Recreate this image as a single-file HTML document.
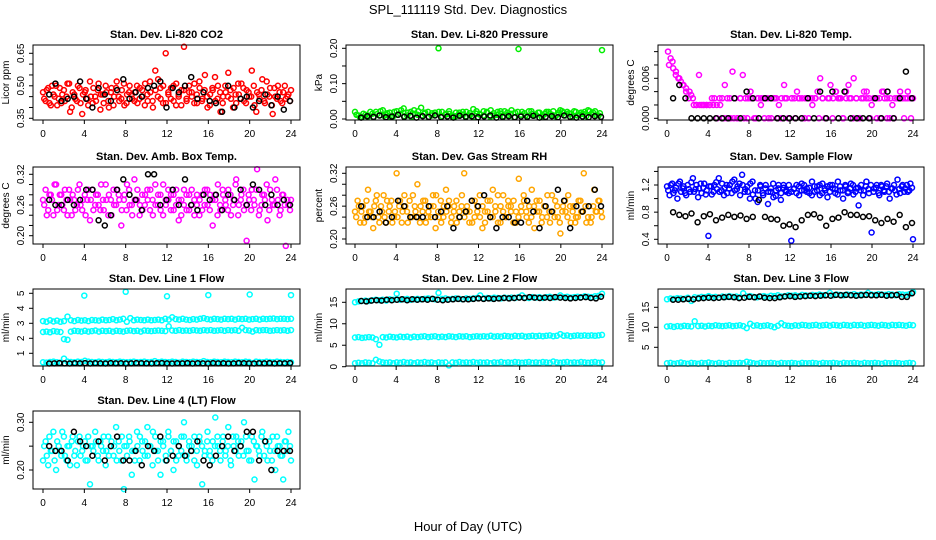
<!DOCTYPE html>
<html><head><meta charset="utf-8"><style>
body{margin:0;background:#fff}
svg{display:block;font-family:"Liberation Sans",sans-serif}
</style></head><body>
<svg id="c" width="936" height="540" viewBox="0 0 936 540">
<text x="468" y="14" text-anchor="middle" font-size="13">SPL_111119  Std. Dev. Diagnostics</text>
<text x="468" y="531" text-anchor="middle" font-size="13">Hour of Day (UTC)</text>
</svg>
<script>
// ---- data ----
const xTicks = [0,4,8,12,16,20,24];
const co2 = [0.47,0.43,0.49,0.41,0.46,0.50,0.44,0.42,0.48,0.45,0.51,0.40,0.46,0.43,0.49,0.37,0.47,0.44,0.52,0.42,0.45,0.48,0.39,0.46,0.50,0.43,0.47,0.41,0.49,0.45,0.44,0.51,0.42,0.47,0.46,0.43,0.50,0.44,0.48,0.41,0.46,0.52,0.43,0.57,0.45,0.49,0.42,0.65,0.47,0.44,0.50,0.41,0.46,0.48,0.68,0.43,0.47,0.45,0.51,0.42,0.49,0.44,0.55,0.40,0.46,0.48,0.43,0.50,0.38,0.45,0.47,0.56,0.44,0.49,0.42,0.46,0.51,0.43,0.48,0.45,0.57,0.41,0.47,0.44,0.53,0.42,0.46,0.49,0.37,0.45,0.50,0.43,0.47,0.44,0.46,0.48];
const co2b = [0.44,0.48,0.42,0.50,0.45,0.41,0.49,0.46,0.43,0.51,0.38,0.47,0.44,0.50,0.42,0.46,0.48,0.41,0.45,0.49,0.43,0.51,0.46,0.42,0.47,0.40,0.49,0.45,0.52,0.43,0.48,0.41,0.46,0.50,0.44,0.47,0.42,0.49,0.45,0.51,0.43,0.47,0.40,0.48,0.53,0.44,0.50,0.42,0.46,0.49,0.43,0.51,0.45,0.41,0.48,0.44,0.50,0.47,0.42,0.46,0.52,0.43,0.48,0.45,0.41,0.49,0.54,0.44,0.47,0.42,0.50,0.45,0.48,0.40,0.46,0.51,0.44,0.49,0.42,0.47,0.45,0.50,0.38,0.46,0.48,0.43,0.52,0.45,0.41,0.49,0.44,0.47,0.42,0.50,0.45,0.43];
const co2k = [0.46,0.51,0.43,0.44,0.45,0.52,0.44,0.40,0.49,0.46,0.43,0.48,0.53,0.44,0.47,0.45,0.49,0.50,0.52,0.40,0.49,0.47,0.50,0.54,0.44,0.47,0.43,0.42,0.38,0.50,0.40,0.44,0.45,0.40,0.43,0.46,0.41,0.45,0.39,0.43];
const pres = [0.02,0.01,0.005,0.012,0.008,0.015,0.02,0.01,0.025,0.012,0.018,0.008,0.022,0.015,0.03,0.01,0.02,0.025,0.012,0.032,0.015,0.02,0.01,0.018,0.2,0.02,0.012,0.015,0.01,0.008,0.018,0.012,0.02,0.01,0.028,0.015,0.012,0.022,0.018,0.025,0.01,0.02,0.015,0.022,0.012,0.025,0.018,0.198,0.02,0.01,0.022,0.015,0.012,0.018,0.01,0.02,0.015,0.022,0.012,0.025,0.018,0.02,0.015,0.022,0.01,0.018,0.02,0.025,0.015,0.022,0.01,0.195];
const presb = [0.012,0.005,0.015,0.008,0.02,0.006,0.014,0.022,0.009,0.016,0.005,0.02,0.012,0.025,0.008,0.018,0.006,0.015,0.022,0.01,0.018,0.005,0.016,0.012,0.02,0.008,0.015,0.022,0.006,0.018,0.012,0.02,0.008,0.016,0.005,0.022,0.014,0.01,0.02,0.006,0.016,0.012,0.022,0.008,0.018,0.015,0.005,0.02,0.012,0.016,0.008,0.022,0.01,0.018,0.006,0.015,0.02,0.012,0.008,0.018,0.022,0.01,0.016,0.006,0.02,0.012,0.015,0.008,0.022,0.018,0.01,0.016];
const presk = [0.004,0.008,0.006,0.01,0.005,0.007,0.012,0.006,0.009,0.004,0.008,0.006,0.01,0.005,0.007,0.004,0.009,0.006,0.008,0.005,0.007,0.01,0.004,0.006,0.008,0.005,0.007,0.006,0.009,0.004,0.006,0.008,0.005,0.01,0.006,0.004,0.007,0.005,0.008,0.006];
const temp = [0.010,0.009,0.0075,0.0065,0.006,0.0055,0.005,0.0045,0.003,0.0035,0.002,0.002,0.0065,0.002,0.002,0.002,0.002,0.003,0.003,0.000,0.003,0.003,0.005,0.003,0.003,0.007,0.003,0.000,0.003,0.0065,0.003,0.003,0.004,0.003,0.000,0.003,0.002,0.003,0.003,0.000,0.003,0.003,0.003,0.002,0.003,0.005,0.003,0.000,0.003,0.003,0.004,0.003,0.003,0.000,0.003,0.003,0.002,0.003,0.004,0.006,0.003,0.000,0.003,0.005,0.003,0.004,0.003,0.003,0.000,0.004,0.005,0.003,0.006,0.003,0.000,0.003,0.004,0.003,0.003,0.002,0.003,0.000,0.003,0.004,0.003,0.003,0.000,0.002,0.003,0.003,0.004,0.003,0.003,0.004,0.003,0.003];
const tempb = [0.008,0.0085,0.007,0.006,0.005,0.004,0.004,0.003,0.002,0.002,0.002,0.002,0.002,0.002,0.002,0.002,0.000,0.000,0.000,0.000,0.000,0.003,0.000,0.000,0.003,0.000,0.003,0.003,0.000,0.003,0.000,0.003,0.000,0.000,0.003,0.000,0.003,0.000,0.003,0.000,0.003,0.000,0.003,0.003,0.000,0.003,0.000,0.003,0.000,0.004,0.003,0.000,0.003,0.003,0.000,0.003,0.000,0.003,0.004,0.000,0.003,0.003,0.000,0.004,0.000,0.003,0.000,0.003,0.003,0.000,0.003,0.000];
const tempk = [0.003,0.005,0.003,0.000,0.000,0.000,0.000,0.000,0.000,0.000,0.003,0.000,0.004,0.003,0.000,0.003,0.003,0.000,0.000,0.000,0.000,0.000,0.003,0.000,0.004,0.000,0.004,0.000,0.004,0.000,0.000,0.000,0.000,0.003,0.000,0.004,0.000,0.003,0.007,0.003];
const amb = [0.27,0.29,0.25,0.28,0.24,0.30,0.26,0.28,0.25,0.27,0.29,0.24,0.27,0.26,0.30,0.25,0.28,0.27,0.23,0.29,0.26,0.28,0.25,0.27,0.30,0.24,0.27,0.29,0.26,0.28,0.22,0.27,0.25,0.29,0.26,0.31,0.27,0.24,0.28,0.26,0.29,0.25,0.27,0.30,0.26,0.28,0.24,0.27,0.29,0.25,0.28,0.26,0.23,0.27,0.29,0.25,0.28,0.26,0.24,0.28,0.27,0.25,0.29,0.26,0.28,0.22,0.27,0.30,0.25,0.28,0.26,0.29,0.24,0.27,0.31,0.26,0.28,0.25,0.19,0.27,0.29,0.26,0.33,0.25,0.28,0.27,0.23,0.29,0.26,0.31,0.27,0.25,0.28,0.18,0.26,0.27];
const ambb = [0.26,0.24,0.28,0.27,0.30,0.25,0.28,0.26,0.29,0.24,0.27,0.28,0.25,0.29,0.26,0.27,0.24,0.29,0.27,0.25,0.28,0.26,0.30,0.25,0.27,0.28,0.24,0.26,0.29,0.27,0.25,0.28,0.30,0.26,0.24,0.27,0.29,0.26,0.25,0.28,0.27,0.29,0.24,0.26,0.28,0.25,0.30,0.26,0.27,0.28,0.25,0.29,0.27,0.24,0.26,0.28,0.25,0.29,0.27,0.26,0.24,0.28,0.26,0.29,0.25,0.27,0.28,0.24,0.26,0.29,0.27,0.25,0.28,0.26,0.30,0.24,0.27,0.29,0.26,0.28,0.25,0.27,0.29,0.24,0.26,0.28,0.30,0.25,0.27,0.26,0.29,0.24,0.28,0.26,0.27,0.25];
const ambk = [0.27,0.26,0.26,0.27,0.26,0.27,0.29,0.29,0.23,0.22,0.24,0.29,0.31,0.28,0.27,0.25,0.32,0.32,0.26,0.27,0.29,0.26,0.31,0.26,0.25,0.28,0.27,0.28,0.25,0.28,0.27,0.29,0.26,0.30,0.29,0.26,0.28,0.26,0.27,0.26];
const rh = [0.25,0.27,0.23,0.26,0.24,0.29,0.25,0.22,0.27,0.24,0.26,0.28,0.23,0.25,0.27,0.24,0.32,0.26,0.23,0.28,0.25,0.27,0.24,0.26,0.30,0.23,0.25,0.27,0.24,0.26,0.28,0.22,0.25,0.27,0.24,0.29,0.26,0.23,0.25,0.27,0.24,0.26,0.32,0.25,0.23,0.27,0.24,0.26,0.28,0.22,0.25,0.27,0.24,0.29,0.25,0.23,0.26,0.28,0.24,0.26,0.25,0.27,0.23,0.31,0.25,0.27,0.24,0.26,0.29,0.22,0.25,0.27,0.24,0.26,0.28,0.23,0.25,0.27,0.24,0.21,0.26,0.25,0.28,0.23,0.26,0.24,0.27,0.25,0.32,0.23,0.26,0.24,0.29,0.25,0.27,0.24];
const rhb = [0.24,0.26,0.25,0.23,0.27,0.25,0.24,0.26,0.28,0.23,0.25,0.24,0.27,0.26,0.23,0.25,0.24,0.27,0.25,0.26,0.23,0.24,0.28,0.25,0.24,0.26,0.27,0.23,0.25,0.24,0.26,0.28,0.24,0.23,0.26,0.25,0.27,0.24,0.26,0.23,0.25,0.28,0.24,0.26,0.25,0.23,0.27,0.25,0.24,0.26,0.23,0.25,0.27,0.24,0.26,0.28,0.23,0.25,0.24,0.27,0.26,0.23,0.25,0.24,0.26,0.28,0.25,0.23,0.24,0.26,0.27,0.25,0.23,0.26,0.24,0.25,0.28,0.24,0.26,0.23,0.25,0.27,0.24,0.26,0.25,0.23,0.24,0.27,0.25,0.26,0.24,0.23,0.26,0.25,0.27,0.25];
const rhk = [0.26,0.24,0.24,0.25,0.23,0.24,0.27,0.26,0.24,0.24,0.24,0.26,0.24,0.25,0.26,0.22,0.24,0.25,0.27,0.26,0.28,0.24,0.22,0.24,0.24,0.23,0.23,0.27,0.25,0.22,0.26,0.25,0.29,0.27,0.22,0.26,0.25,0.26,0.29,0.26];
const flow = [1.18,1.05,1.22,1.12,1.0,1.25,1.15,1.08,1.2,1.1,1.3,1.14,1.02,1.22,1.16,1.06,0.45,1.18,1.1,1.24,1.3,1.12,1.05,1.2,1.15,1.08,1.28,1.14,1.22,1.35,1.1,1.18,1.0,1.25,1.12,0.95,1.2,1.08,1.15,0.92,1.1,1.22,1.04,1.15,0.98,1.2,1.1,1.08,0.38,1.14,1.2,1.05,1.22,1.12,1.15,1.08,1.25,1.1,1.18,1.05,1.22,1.12,1.02,1.2,1.15,1.08,1.25,1.12,1.0,1.18,1.1,1.22,1.06,1.15,0.9,1.2,1.12,1.25,1.08,0.5,1.15,1.2,1.05,1.18,1.1,1.22,1.0,1.15,1.12,1.28,1.08,1.2,1.15,1.1,1.22,0.4];
const flowb = [1.12,1.2,1.08,1.16,1.22,1.1,1.18,1.05,1.14,1.24,1.1,1.2,1.15,1.08,1.22,1.12,1.18,1.06,1.2,1.14,1.1,1.22,1.16,1.08,1.2,1.25,1.12,1.18,1.05,1.2,1.14,1.1,1.22,1.06,1.0,1.12,1.18,1.05,1.2,1.1,1.15,1.02,1.12,1.2,1.08,1.16,1.12,1.2,1.1,1.15,1.08,1.18,1.12,1.2,1.1,1.16,1.05,1.18,1.12,1.2,1.08,1.15,1.18,1.1,1.2,1.14,1.06,1.18,1.12,1.2,1.08,1.15,1.2,1.1,1.16,1.12,1.05,1.18,1.14,1.2,1.1,1.16,1.08,1.2,1.12,1.18,1.1,1.15,1.2,1.06,1.14,1.18,1.1,1.2,1.12,1.16];
const flowk = [0.8,0.76,0.74,0.78,0.65,0.74,0.77,0.68,0.72,0.76,0.73,0.75,0.7,0.73,0.98,0.73,0.7,0.69,0.6,0.62,0.58,0.68,0.76,0.77,0.72,0.6,0.7,0.72,0.8,0.76,0.76,0.73,0.74,0.68,0.64,0.7,0.66,0.76,0.58,0.64];
const l1a = [3.15,3.1,3.2,3.12,3.18,3.1,3.15,3.45,3.2,3.15,3.22,3.18,3.2,3.15,3.22,3.2,3.18,3.25,3.2,3.22,3.28,3.2,3.25,3.3,3.1,3.35,3.2,3.25,3.22,3.2,3.25,3.2,3.22,3.25,3.2,3.3,3.25,3.4,3.28,3.25,3.3,3.25,3.22,3.28,3.25,3.3,3.35,3.28,3.25,3.3,3.28,3.25,3.3,3.28,3.3,3.25,3.3,3.28,3.3,3.25,3.28,3.3,3.25,3.3,3.28,3.3,3.32,3.28,3.3,3.3,3.28,3.3];
const l1b = [2.42,2.45,2.4,2.48,2.45,2.42,1.95,1.9,2.45,2.5,2.48,2.45,2.5,2.45,2.48,2.52,2.45,2.5,2.48,2.5,2.45,2.5,2.48,2.45,2.5,2.52,2.48,2.5,2.45,2.52,2.5,2.48,2.5,2.52,2.5,2.48,2.8,2.52,2.5,2.55,2.5,2.52,2.5,2.55,2.52,2.5,2.55,2.52,2.55,2.5,2.52,2.55,2.5,2.55,2.52,2.55,2.5,2.7,2.55,2.52,2.45,2.55,2.52,2.55,2.55,2.5,2.52,2.55,2.52,2.55,2.5,2.55];
const l1c = [0.4,0.38,0.42,0.45,0.4,0.38,0.65,0.45,0.42,0.4,0.45,0.42,0.5,0.45,0.42,0.4,0.45,0.42,0.4,0.45,0.42,0.4,0.45,0.42,0.4,0.42,0.45,0.4,0.42,0.45,0.4,0.42,0.48,0.4,0.45,0.42,0.4,0.45,0.42,0.38,0.45,0.42,0.4,0.45,0.42,0.4,0.48,0.42,0.4,0.45,0.42,0.4,0.45,0.42,0.4,0.45,0.42,0.4,0.45,0.42,0.35,0.45,0.42,0.4,0.45,0.42,0.4,0.45,0.42,0.4,0.42,0.4];
const l1k = [0.32,0.33,0.35,0.33,0.32,0.34,0.33,0.35,0.32,0.34,0.33,0.32,0.35,0.33,0.34,0.32,0.33,0.35,0.34,0.33,0.32,0.34,0.35,0.33,0.32,0.34,0.33,0.35,0.32,0.34,0.33,0.32,0.35,0.33,0.34,0.32,0.33,0.35,0.34,0.33,0.32,0.34,0.33,0.35,0.32,0.34,0.33,0.35];
const outHours = [4,8,12,16,20,24];
const l1out = [4.85,5.1,4.8,4.88,4.92,4.88];
const l2a = [15.0,15.2,15.3,15.4,15.3,15.5,15.6,15.5,15.6,15.4,15.7,15.6,17.0,15.6,15.7,15.8,15.6,15.7,15.8,15.7,15.8,15.9,15.8,15.7,17.2,15.8,15.9,15.7,15.8,15.9,15.8,15.7,15.9,15.8,15.9,16.0,16.6,15.9,16.0,15.9,16.1,16.0,15.9,16.1,16.0,16.1,16.0,16.2,16.6,16.1,16.0,16.2,16.1,16.2,16.0,16.2,16.3,16.1,16.2,16.6,16.2,16.3,16.1,16.2,16.3,16.2,16.4,16.3,16.2,16.4,16.5,17.0];
const l2b = [6.8,6.9,6.7,6.8,6.9,6.8,6.4,5.1,6.9,6.8,7.0,6.9,6.8,7.0,6.9,7.0,6.8,7.0,6.9,7.0,7.1,6.9,7.0,7.1,6.9,7.0,6.9,7.1,7.0,6.9,7.1,7.0,7.1,6.9,7.0,7.1,7.0,7.1,7.0,7.2,7.0,7.1,7.0,7.2,7.1,7.0,7.2,7.1,7.2,7.0,7.1,7.2,7.1,7.2,7.1,7.2,7.3,7.1,7.2,7.6,7.2,7.3,7.1,7.2,7.3,7.2,7.3,7.2,7.3,7.2,7.3,7.4];
const l2c = [0.8,0.9,0.8,1.0,0.9,0.8,1.6,1.2,1.0,0.9,1.0,0.8,1.0,0.9,1.1,0.9,1.0,0.8,1.0,0.9,1.1,0.9,1.0,0.8,1.0,0.9,1.0,0.3,1.0,0.9,1.1,0.9,1.0,0.9,1.1,0.9,1.0,0.9,1.0,0.8,1.0,0.9,1.1,0.9,1.0,0.9,1.1,1.0,0.9,1.0,1.1,0.9,1.0,0.9,1.1,1.0,0.9,1.2,1.0,0.9,1.0,1.1,0.9,1.0,0.9,1.1,1.0,0.9,1.0,1.1,0.9,1.0];
const l2k = [15.3,15.2,15.4,15.5,15.4,15.6,15.5,15.6,15.7,15.5,15.7,15.6,15.7,15.6,15.8,15.6,15.5,15.6,15.7,15.8,15.7,15.7,15.8,15.9,15.8,15.9,15.8,15.9,16.0,15.9,16.0,16.1,16.0,16.2,16.1,16.0,16.1,16.0,16.2,16.1,16.0,15.9,16.0,16.1,16.2,16.0,15.9,16.3];
const l3a = [17.0,17.2,17.1,17.3,17.2,17.1,17.4,16.6,17.5,17.4,17.6,17.5,17.8,17.5,17.6,17.4,17.7,17.6,17.8,17.6,17.7,17.5,18.5,17.7,17.8,17.6,17.5,17.7,17.8,17.6,17.9,17.8,18.0,17.7,17.8,18.0,17.9,18.0,17.8,18.1,18.0,17.9,18.1,18.0,18.2,18.0,18.1,18.6,18.0,18.2,18.1,18.0,18.2,18.1,18.3,18.0,18.2,18.1,18.6,18.2,18.1,18.3,18.2,18.1,18.3,18.2,18.0,18.3,18.2,18.1,18.3,18.8];
const l3b = [10.2,10.3,10.1,10.3,10.2,10.4,10.3,10.2,11.5,10.3,10.4,10.2,10.4,10.3,10.5,10.4,10.3,10.4,10.5,10.3,10.4,10.5,10.3,9.8,10.9,10.4,10.5,10.3,10.4,10.5,10.3,10.0,10.4,11.0,10.5,10.4,10.3,10.5,10.4,10.6,10.5,10.4,10.5,10.6,10.4,10.5,10.6,10.4,10.6,10.5,10.4,10.6,10.5,10.4,10.6,10.5,10.6,10.4,10.5,10.6,10.5,10.4,10.6,10.5,10.4,10.6,10.5,10.6,10.5,10.4,10.6,10.5];
const l3c = [1.0,1.1,0.9,1.0,1.2,1.0,0.9,1.1,1.0,0.9,1.1,1.0,1.2,1.0,0.9,1.1,1.0,0.9,1.1,1.0,1.0,1.1,1.0,1.4,1.2,1.0,0.9,1.1,1.0,1.0,1.1,1.0,0.9,1.1,1.0,1.0,1.1,1.0,0.9,1.1,1.0,1.0,1.1,1.0,0.9,1.1,1.0,1.0,1.1,1.0,0.9,1.1,1.0,1.0,1.1,1.0,0.9,1.1,1.0,1.0,1.1,1.0,0.9,1.1,1.0,1.0,1.1,1.0,0.9,1.0,1.1,1.0];
const l3k = [16.9,16.9,17.0,17.1,17.0,17.2,17.3,17.4,17.3,17.4,17.5,17.6,17.5,17.3,17.4,17.6,17.5,17.7,17.4,17.3,17.3,17.5,17.7,17.8,17.6,17.7,17.8,17.9,17.8,17.9,18.0,17.9,18.1,18.0,18.1,18.0,17.9,18.0,18.1,18.0,18.0,18.1,17.9,18.0,18.1,17.6,17.6,18.5];
const l4 = [0.22,0.26,0.21,0.24,0.28,0.20,0.25,0.23,0.27,0.22,0.25,0.26,0.23,0.21,0.27,0.24,0.26,0.22,0.17,0.25,0.28,0.23,0.26,0.24,0.21,0.27,0.25,0.23,0.29,0.26,0.22,0.16,0.25,0.27,0.19,0.24,0.28,0.22,0.26,0.23,0.29,0.25,0.21,0.27,0.24,0.19,0.26,0.22,0.28,0.24,0.20,0.26,0.23,0.27,0.30,0.22,0.25,0.24,0.27,0.21,0.26,0.17,0.24,0.28,0.23,0.26,0.31,0.25,0.22,0.27,0.24,0.29,0.21,0.25,0.27,0.23,0.26,0.30,0.24,0.22,0.27,0.18,0.25,0.23,0.28,0.26,0.22,0.24,0.27,0.20,0.25,0.23,0.18,0.26,0.28,0.22];
const l4b = [0.25,0.23,0.27,0.24,0.22,0.26,0.24,0.28,0.23,0.25,0.21,0.27,0.24,0.26,0.23,0.25,0.22,0.27,0.25,0.24,0.26,0.22,0.25,0.27,0.24,0.23,0.26,0.25,0.22,0.24,0.27,0.25,0.23,0.26,0.24,0.22,0.25,0.27,0.24,0.26,0.23,0.25,0.28,0.24,0.22,0.26,0.25,0.23,0.27,0.24,0.26,0.22,0.25,0.24,0.27,0.23,0.26,0.25,0.22,0.24,0.27,0.25,0.23,0.26,0.24,0.22,0.25,0.27,0.24,0.26,0.23,0.25,0.22,0.27,0.24,0.26,0.25,0.23,0.27,0.24,0.22,0.26,0.25,0.24,0.27,0.23,0.25,0.26,0.22,0.24,0.27,0.25,0.23,0.26,0.24,0.25];
const l4k = [0.25,0.24,0.24,0.22,0.28,0.26,0.25,0.23,0.26,0.22,0.25,0.27,0.22,0.22,0.24,0.21,0.25,0.24,0.27,0.22,0.23,0.25,0.23,0.24,0.26,0.22,0.21,0.23,0.25,0.27,0.24,0.25,0.28,0.28,0.22,0.26,0.20,0.24,0.24,0.24];

// ---- layout ----
const svg = document.getElementById('c');
const NS = 'http://www.w3.org/2000/svg';
const cols = [{b0:33,b1:300,h0:43,h24:291},{b0:346,b1:613,h0:355,h24:602},{b0:658,b1:924,h0:667,h24:913}];
const rows = [{t:45,b:120},{t:167,b:244},{t:289,b:366},{t:411,b:489}];
function mk(tag, attrs, parent){const e=document.createElementNS(NS,tag);for(const k in attrs)e.setAttribute(k,attrs[k]);(parent||svg).appendChild(e);return e;}

function panel(name, r, c, title, ylab, ya, yb, ticks, labels, series){
  const C=cols[c], R=rows[r];
  const g = mk('g',{});
  
  
  const xs = h => C.h0 + (h/24)*(C.h24-C.h0);
  const ys = v => ya[1] + (v-ya[0])*(yb[1]-ya[1])/(yb[0]-ya[0]);
  const cg = mk('g',{},g);
  
  
  series.forEach(s=>{
    const n=s.vals.length;
    s.vals.forEach((v,i)=>{
      const h = s.hours ? s.hours[i] : s.start + i*(s.end-s.start)/(n-1);
      const p = mk('circle',{cx:xs(h).toFixed(1),cy:ys(v).toFixed(1),r:2.5,fill:'none',stroke:s.col,'stroke-width':1.5},cg);
      
      
    });
  });
  const box = mk('rect',{x:C.b0,y:R.t,width:C.b1-C.b0,height:R.b-R.t,fill:'none',stroke:'#000','stroke-width':1},g);
  
  
  const tt = mk('text',{x:(C.b0+C.b1)/2,y:R.t-7,'text-anchor':'middle','font-size':11,'font-weight':'bold'},g);
  tt.textContent = title;
  
  
  const xg = mk('g',{},g);
  
  
  mk('line',{x1:xs(xTicks[0]),x2:xs(xTicks[xTicks.length-1]),y1:R.b,y2:R.b,stroke:'#000'},xg);
  xTicks.forEach(t=>{
    mk('line',{x1:xs(t),x2:xs(t),y1:R.b,y2:R.b+4,stroke:'#000'},xg);
    const tx = mk('text',{x:xs(t),y:R.b+17,'text-anchor':'middle','font-size':10},xg);
    tx.textContent = t;
    
    
  });
  const yg = mk('g',{},g);
  
  
  mk('line',{x1:C.b0,x2:C.b0,y1:ys(ticks[0]),y2:ys(ticks[ticks.length-1]),stroke:'#000'},yg);
  ticks.forEach(t=>{ mk('line',{x1:C.b0-4,x2:C.b0,y1:ys(t),y2:ys(t),stroke:'#000'},yg); });
  labels.forEach(l=>{
    const y=ys(parseFloat(l));
    const tx = mk('text',{x:C.b0-9,y:y,'text-anchor':'middle','font-size':10,transform:`rotate(-90 ${C.b0-9} ${y})`},yg);
    tx.textContent = l;
    
    
  });
  const yl = mk('text',{x:C.b0-24,y:(R.t+R.b)/2,'text-anchor':'middle','font-size':10,transform:`rotate(-90 ${C.b0-24} ${(R.t+R.b)/2})`},g);
  yl.textContent = ylab;
  
  
}
const RED='#ff0000',BLK='#000',GRN='#00ee00',MAG='#ff00ff',ORG='#ffa500',BLU='#0000ff',CYN='#00ffff';
panel('co2',0,0,'Stan. Dev. Li-820 CO2','Licor ppm',[0.35,118.3],[0.65,53.3],[0.35,0.40,0.45,0.50,0.55,0.60,0.65],['0.35','0.50','0.65'],
  [{name:'co2',vals:co2,col:RED,start:0,end:24},{name:'co2-b',vals:co2b,col:RED,start:0.12,end:23.9},{name:'co2-black',vals:co2k,col:BLK,start:0.6,end:23.9}]);
panel('pressure',0,1,'Stan. Dev. Li-820 Pressure','kPa',[0,119],[0.2,48.3],[0,0.05,0.1,0.15,0.2],['0.00','0.10','0.20'],
  [{name:'pressure',vals:pres,col:GRN,start:0,end:24},{name:'pressure-b',vals:presb,col:GRN,start:0.15,end:23.8},{name:'pressure-black',vals:presk,col:BLK,start:0.6,end:23.9}]);
panel('temp',0,2,'Stan. Dev. Li-820 Temp.','degrees C',[0,118.3],[0.006,78.3],[0,0.002,0.004,0.006,0.008,0.010],['0.000','0.006'],
  [{name:'temp',vals:temp,col:MAG,start:0.1,end:24},{name:'temp-b',vals:tempb,col:MAG,start:0.2,end:23.8},{name:'temp-black',vals:tempk,col:BLK,start:0.6,end:23.9}]);
panel('ambtemp',1,0,'Stan. Dev. Amb. Box Temp.','degrees C',[0.20,235.7],[0.32,174.3],[0.20,0.22,0.24,0.26,0.28,0.30,0.32],['0.20','0.26','0.32'],
  [{name:'ambtemp',vals:amb,col:MAG,start:0,end:24},{name:'ambtemp-b',vals:ambb,col:MAG,start:0.12,end:23.9},{name:'ambtemp-black',vals:ambk,col:BLK,start:0.6,end:23.9}]);
panel('rh',1,1,'Stan. Dev. Gas Stream RH','percent',[0.20,239],[0.32,173.3],[0.20,0.22,0.24,0.26,0.28,0.30,0.32],['0.20','0.26','0.32'],
  [{name:'rh',vals:rh,col:ORG,start:0,end:24},{name:'rh-b',vals:rhb,col:ORG,start:0.12,end:23.9},{name:'rh-black',vals:rhk,col:BLK,start:0.6,end:23.9}]);
panel('sampleflow',1,2,'Stan. Dev. Sample Flow','ml/min',[0.4,239.3],[1.2,185],[0.4,0.6,0.8,1.0,1.2,1.4],['0.4','0.8','1.2'],
  [{name:'sampleflow',vals:flow,col:BLU,start:0,end:24},{name:'sampleflow-b',vals:flowb,col:BLU,start:0.12,end:23.9},{name:'sampleflow-black',vals:flowk,col:BLK,start:0.6,end:23.9}]);
panel('line1',2,0,'Stan. Dev. Line 1 Flow','ml/min',[1,353.3],[5,293.3],[1,2,3,4,5],['1','2','3','4','5'],
  [{name:'line1-upper',vals:l1a,col:CYN,start:0,end:24},{name:'line1-middle',vals:l1b,col:CYN,start:0,end:24},{name:'line1-lower',vals:l1c,col:CYN,start:0,end:24},{name:'line1-outlier',vals:l1out,col:CYN,hours:outHours},{name:'line1-black',vals:l1k,col:BLK,start:0.6,end:23.9}]);
panel('line2',2,1,'Stan. Dev. Line 2 Flow','ml/min',[0,366.7],[15,302.3],[0,5,10,15],['0','5','10','15'],
  [{name:'line2-upper',vals:l2a,col:CYN,start:0,end:24},{name:'line2-middle',vals:l2b,col:CYN,start:0,end:24},{name:'line2-lower',vals:l2c,col:CYN,start:0,end:24},{name:'line2-black',vals:l2k,col:BLK,start:0.6,end:23.9}]);
panel('line3',2,2,'Stan. Dev. Line 3 Flow','ml/min',[5,347.3],[15,307.3],[5,10,15],['5','10','15'],
  [{name:'line3-upper',vals:l3a,col:CYN,start:0,end:24},{name:'line3-middle',vals:l3b,col:CYN,start:0,end:24},{name:'line3-lower',vals:l3c,col:CYN,start:0,end:24},{name:'line3-black',vals:l3k,col:BLK,start:0.6,end:23.9}]);
panel('line4',3,0,'Stan. Dev. Line 4 (LT) Flow','ml/min',[0.20,470],[0.30,422.3],[0.20,0.25,0.30],['0.20','0.30'],
  [{name:'line4',vals:l4,col:CYN,start:0,end:24},{name:'line4-b',vals:l4b,col:CYN,start:0.12,end:23.9},{name:'line4-black',vals:l4k,col:BLK,start:0.6,end:23.9}]);
</script>
</body></html>
